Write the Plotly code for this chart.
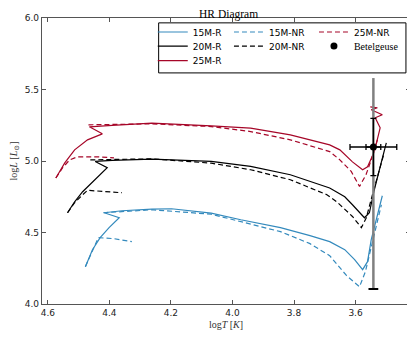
import plotly.graph_objects as go

# evolutionary tracks, log T [K] vs log L [Lsun]; None splits the NR tracks
logT_15R = [4.478, 4.455, 4.430, 4.401, 4.368, 4.417, 4.359, 4.262, 4.198, 4.069, 3.973, 3.844,
            3.748, 3.684, 3.635, 3.603, 3.577, 3.561, 3.549, 3.532, 3.513]
logL_15R = [4.261, 4.380, 4.464, 4.534, 4.603, 4.638, 4.652, 4.664, 4.666, 4.636, 4.589, 4.534,
            4.478, 4.436, 4.380, 4.310, 4.240, 4.296, 4.450, 4.589, 4.757]

logT_15NR = [4.478, 4.462, 4.446, 4.436, 4.385, 4.327, None,
             4.420, 4.262, 4.069, 3.973, 3.844, 3.748, 3.684, 3.629, 3.587, 3.568, 3.549, 3.529, 3.516]
logL_15NR = [4.261, 4.345, 4.415, 4.464, 4.457, 4.436, None,
             4.638, 4.659, 4.628, 4.575, 4.506, 4.422, 4.338, 4.198, 4.121, 4.226, 4.394, 4.575, 4.694]

logT_20R = [4.536, 4.513, 4.487, 4.455, 4.407, 4.446, 4.391, 4.262, 4.069, 3.941, 3.812, 3.684,
            3.635, 3.610, 3.587, 3.571, 3.555, 3.539, 3.520, 3.500]
logL_20R = [4.638, 4.715, 4.785, 4.855, 4.953, 4.997, 5.005, 5.013, 4.997, 4.962, 4.904, 4.811,
            4.750, 4.694, 4.638, 4.603, 4.638, 4.799, 4.959, 5.127]

logT_20NR = [4.536, 4.513, 4.487, 4.471, 4.423, 4.359, None,
             4.462, 4.262, 4.069, 3.941, 3.812, 3.693, 3.661, 3.610, 3.581, 3.565, 3.545, 3.523, 3.507]
logL_20NR = [4.638, 4.708, 4.764, 4.795, 4.788, 4.778, None,
             5.008, 5.015, 4.985, 4.939, 4.869, 4.764, 4.715, 4.612, 4.534, 4.603, 4.764, 4.939, 5.057]

logT_25R = [4.574, 4.545, 4.513, 4.471, 4.423, 4.465, 4.391, 4.262, 4.069, 3.941, 3.812, 3.684,
            3.651, 3.610, 3.577, 3.561, 3.539, 3.520, 3.536, 3.513, 3.549, 3.529, 3.552]
logL_25R = [4.881, 4.987, 5.078, 5.148, 5.190, 5.239, 5.249, 5.265, 5.246, 5.230, 5.183, 5.113,
            5.078, 4.994, 4.939, 4.959, 5.064, 5.232, 5.302, 5.323, 5.358, 5.372, 5.378]

logT_25NR = [4.574, 4.552, 4.529, 4.504, 4.439, 4.385, None,
             4.468, 4.262, 4.069, 3.941, 3.812, 3.684, 3.651, 3.614, 3.587, 3.566, 3.549, 3.529]
logL_25NR = [4.881, 4.953, 5.008, 5.029, 5.029, 5.022, None,
             5.253, 5.260, 5.241, 5.206, 5.148, 5.066, 5.008, 4.927, 4.822, 4.904, 5.008, 5.148]

# Betelgeuse
betel_logT = [3.542]
betel_logL = [5.098]
betel_xerr_small = [0.024]
betel_xerr_large = [0.076]
betel_yerr = [0.2]
betel_L_range = [4.105, 5.58]

BLUE = '#348ABD'
RED = '#A60628'
SERIF = 'Liberation Serif, DejaVu Serif, serif'
SANS = 'DejaVu Sans, sans-serif'
DASH = '5px,3px'

# legend slots (paper coords), filled column by column like matplotlib ncol=3
col_x = [0.301, 0.508, 0.739]
row_y = [0.951, 0.902, 0.851]

fig = go.Figure()

tracks = [
    (logT_15R, logL_15R, '15M-R', BLUE, 'solid', 'legend'),
    (logT_20R, logL_20R, '20M-R', 'black', 'solid', 'legend2'),
    (logT_25R, logL_25R, '25M-R', RED, 'solid', 'legend3'),
    (logT_15NR, logL_15NR, '15M-NR', BLUE, DASH, 'legend4'),
    (logT_20NR, logL_20NR, '20M-NR', 'black', DASH, 'legend5'),
    (logT_25NR, logL_25NR, '25M-NR', RED, DASH, 'legend6'),
]
for x, y, name, color, dash, leg in tracks:
    fig.add_trace(go.Scatter(
        x=x, y=y, mode='lines', name=name, legend=leg,
        line=dict(color=color, width=1.2, dash=dash),
        connectgaps=False,
    ))

# gray range line
fig.add_trace(go.Scatter(
    x=[betel_logT[0], betel_logT[0]], y=betel_L_range, mode='lines',
    line=dict(color='#808080', width=2.5), showlegend=False,
))
fig.add_trace(go.Scatter(
    x=betel_logT, y=[betel_L_range[0]], mode='markers',
    marker=dict(symbol='line-ew', size=7, line=dict(color='black', width=2)),
    showlegend=False,
))
# wide error bar
fig.add_trace(go.Scatter(
    x=betel_logT, y=betel_logL, mode='markers',
    marker=dict(color='black', size=1),
    error_x=dict(type='data', array=betel_xerr_large, color='black', thickness=1.3, width=3),
    showlegend=False,
))
fig.add_trace(go.Scatter(
    x=betel_logT, y=betel_logL, mode='markers',
    name="<span style='font-family:Liberation Serif;font-size:10px'>Betelgeuse</span>",
    legend='legend7',
    marker=dict(color='black', size=7),
    error_x=dict(type='data', array=betel_xerr_small, color='black', thickness=1.3, width=3),
    error_y=dict(type='data', array=betel_yerr, color='black', thickness=1.3, width=3),
))

leg_common = dict(font=dict(family=SANS, size=9, color='black'), bgcolor='rgba(0,0,0,0)',
                  yanchor='middle', xanchor='left', itemwidth=30)
slots = [(0, 0), (0, 1), (0, 2), (1, 0), (1, 1), (2, 0), (2, 1)]
legends = {}
for i, (c, r) in enumerate(slots):
    key = 'legend' if i == 0 else f'legend{i + 1}'
    legends[key] = dict(x=col_x[c], y=row_y[r], **leg_common)

# the page body has an 8px margin, so the figure is drawn 8px in and 8px down
fig.update_layout(
    width=407, height=330,
    margin=dict(l=31, r=4, t=10, b=34),
    paper_bgcolor='white', plot_bgcolor='white',
    title=dict(text='HR Diagram', x=0.542, xanchor='center', y=0.983, yanchor='middle',
               font=dict(family=SERIF, size=11.5, color='black')),
    shapes=[dict(type='rect', xref='paper', yref='paper', x0=0.317, x1=0.989, y0=0.808, y1=0.983,
                 line=dict(color='black', width=1))],
    xaxis=dict(
        range=[4.619, 3.423], tickvals=[4.6, 4.4, 4.2, 4.0, 3.8, 3.6],
        ticktext=['4.6', '4.4', '4.2', '4.0', '3.8', '3.6'],
        ticks='inside', ticklen=4, tickcolor='#555', mirror='ticks',
        showline=True, linecolor='#555', linewidth=1.3, showgrid=False, zeroline=False,
        tickfont=dict(family=SANS, size=9, color='#222'),
        title=dict(text='log<i>T</i> [<i>K</i>]', font=dict(family=SERIF, size=10, color='#333'), standoff=4),
    ),
    yaxis=dict(
        range=[4.0, 6.0], tickvals=[4.0, 4.5, 5.0, 5.5, 6.0],
        ticktext=['4.0', '4.5', '5.0', '5.5', '6.0'],
        ticks='inside', ticklen=4, tickcolor='#555', mirror='ticks',
        showline=True, linecolor='#555', linewidth=1.3, showgrid=False, zeroline=False,
        tickfont=dict(family=SANS, size=9, color='#222'),
        title=dict(text='log<i>L</i> [<i>L</i><sub>⊙</sub>]', font=dict(family=SERIF, size=10, color='#333'), standoff=6),
    ),
    **legends,
)

fig.write_html("out.html")
